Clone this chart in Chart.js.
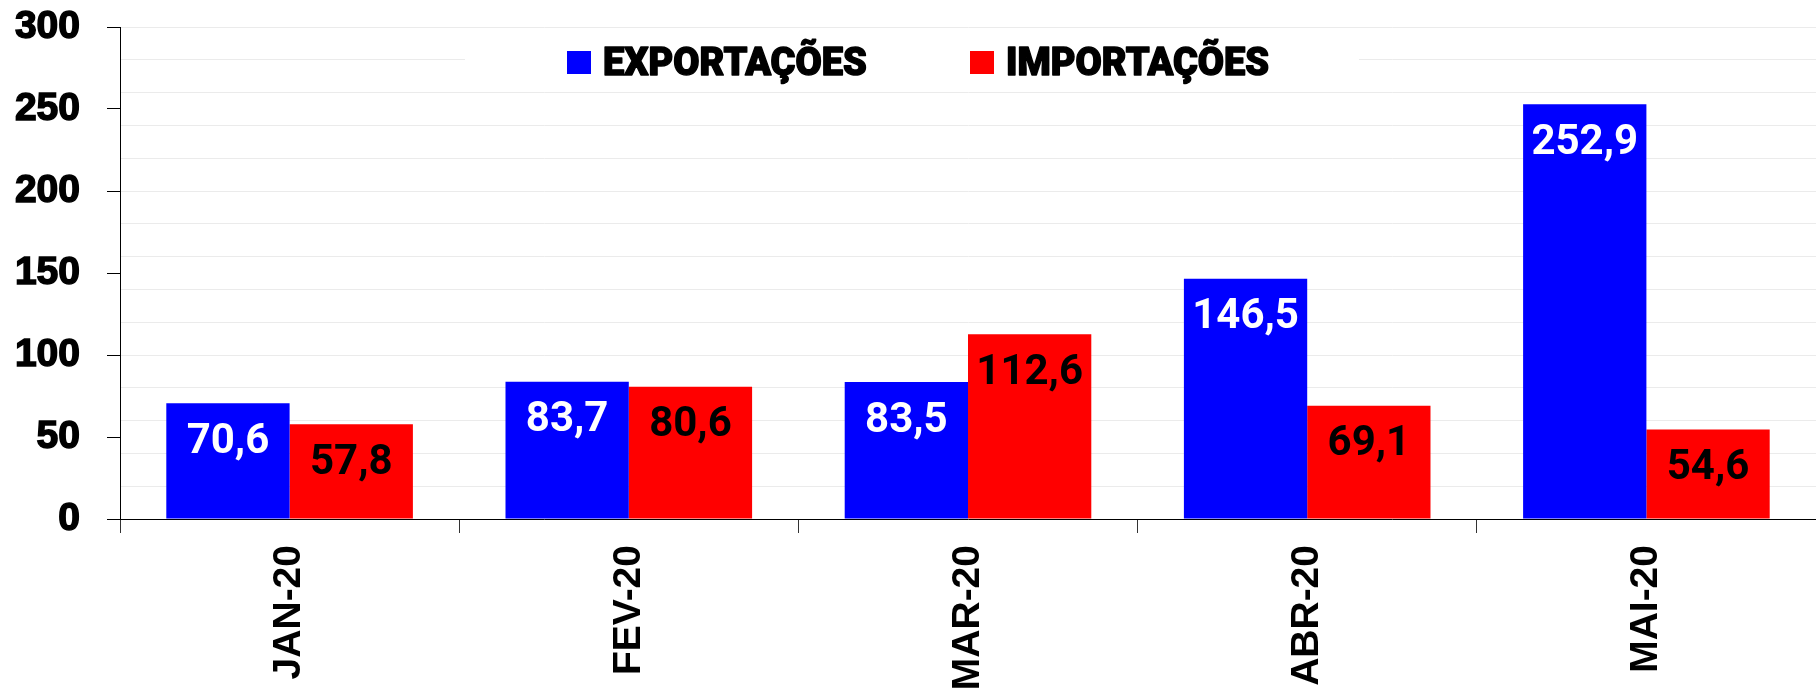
<!DOCTYPE html>
<html>
<head>
<meta charset="utf-8">
<script src="https://cdn.jsdelivr.net/npm/chart.js@4/dist/chart.umd.min.js"></script>
<style>
  html, body { margin: 0; padding: 0; background: #fff; }
  #wrap { width: 1816px; height: 693px; position: relative; }
</style>
</head>
<body>
<div id="wrap"><canvas id="chart"></canvas></div>
<script>
  // Data
  const months = ['JAN-20', 'FEV-20', 'MAR-20', 'ABR-20', 'MAI-20'];
  const exportacoes = [70.6, 83.7, 83.5, 146.5, 252.9];
  const importacoes = [57.8, 80.6, 112.6, 69.1, 54.6];
  const seriesNames = ['EXPORTAÇÕES', 'IMPORTAÇÕES'];

  const BLUE = '#0000ff';
  const RED = '#ff0000';

  function fmt(v) { return v.toFixed(1).replace('.', ','); }

  // value labels inside the top of each bar
  const barLabels = {
    id: 'barLabels',
    afterDatasetsDraw(chart) {
      const ctx = chart.ctx;
      ctx.save();
      ctx.font = '700 42px Roboto';
      ctx.textAlign = 'center';
      ctx.textBaseline = 'middle';
      chart.data.datasets.forEach((ds, i) => {
        const meta = chart.getDatasetMeta(i);
        ctx.fillStyle = i === 0 ? '#ffffff' : '#000000';
        meta.data.forEach((bar, j) => {
          ctx.fillText(fmt(ds.data[j]), bar.x, bar.y + 39);
        });
      });
      ctx.restore();
    }
  };

  // legend box drawn over the gridlines, left of centre like the original
  const topLegend = {
    id: 'topLegend',
    beforeDatasetsDraw(chart) {
      const ctx = chart.ctx;
      const y = chart.scales.y;
      const top = y.getPixelForValue(300) + 2;
      const bottom = y.getPixelForValue(260) - 2;
      ctx.save();
      ctx.fillStyle = '#ffffff';
      ctx.fillRect(465, top, 1359 - 465, bottom - top);
      ctx.font = '900 38px Roboto';
      ctx.textBaseline = 'alphabetic';
      ctx.textAlign = 'left';
      ctx.lineWidth = 1.4;
      ctx.strokeStyle = '#000';
      ctx.lineJoin = 'round';
      let x = 567;
      chart.data.datasets.forEach((ds, i) => {
        ctx.fillStyle = ds.backgroundColor;
        ctx.fillRect(x, 51, 24, 23);
        ctx.fillStyle = '#000';
        ctx.fillText(ds.label, x + 36, 75);
        ctx.strokeText(ds.label, x + 36, 75);
        x = 970;
      });
      ctx.restore();
    }
  };

  new Chart(document.getElementById('chart'), {
    type: 'bar',
    data: {
      labels: months,
      datasets: [
        { label: seriesNames[0], data: exportacoes, backgroundColor: BLUE },
        { label: seriesNames[1], data: importacoes, backgroundColor: RED }
      ]
    },
    options: {
      responsive: true,
      maintainAspectRatio: false,
      animation: false,
      layout: { padding: { top: 27, right: 0, left: 0, bottom: 0 } },
      datasets: { bar: { barPercentage: 1.0, categoryPercentage: 0.727 } },
      plugins: {
        legend: { display: false },
        tooltip: { enabled: false }
      },
      scales: {
        x: {
          afterFit(scale) { scale.height = 174; scale.paddingLeft = 0; scale.paddingRight = 0; },
          border: { color: '#000', width: 1 },
          grid: { offset: true, drawOnChartArea: false, tickLength: 14, tickColor: '#333' },
          ticks: {
            maxRotation: 90, minRotation: 90, padding: 12,
            color: '#000',
            font: { family: 'Liberation Sans', weight: 'bold', size: 39 }
          }
        },
        y: {
          min: 0, max: 300,
          afterFit(scale) { scale.width = 120; scale.paddingTop = 0; scale.paddingBottom = 0; },
          border: { color: '#000', width: 1 },
          grid: {
            tickLength: 13,
            color: (c) => (c.tick && c.tick.value % 20 === 0) ? '#ebebeb' : 'rgba(0,0,0,0)',
            tickColor: (c) => (c.tick && c.tick.value % 50 === 0) ? '#000' : 'rgba(0,0,0,0)'
          },
          ticks: {
            stepSize: 10, autoSkip: false, padding: 27,
            color: '#000',
            textStrokeColor: '#000', textStrokeWidth: 1.5,
            font: { family: 'Liberation Sans', weight: 'bold', size: 39 },
            callback: (v) => v % 50 === 0 ? v : ''
          }
        }
      }
    },
    plugins: [topLegend, barLabels]
  });
</script>
</body>
</html>
